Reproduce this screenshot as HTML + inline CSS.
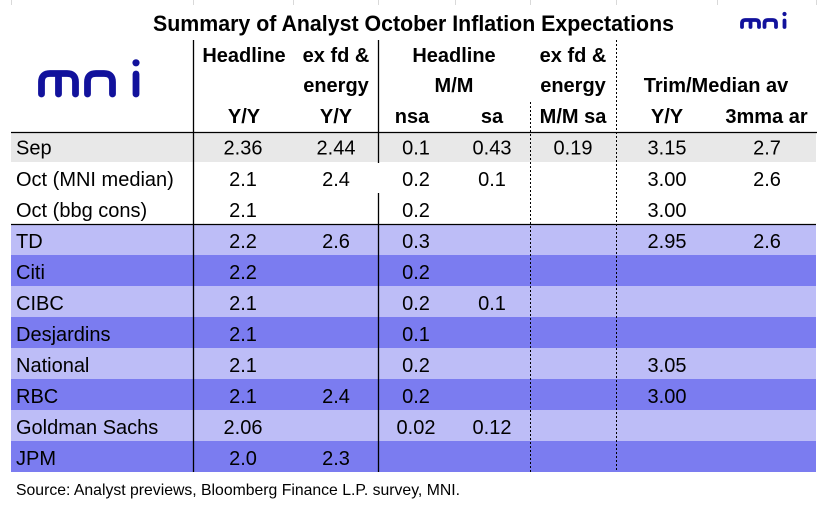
<!DOCTYPE html>
<html>
<head>
<meta charset="utf-8">
<style>
  html, body { margin:0; padding:0; background:#ffffff; }
  svg { display:block; }
  text { font-family: "Liberation Sans", "DejaVu Sans", sans-serif; fill:#000; }
  .hd { font-weight:bold; font-size:20px; }
  .d { font-size:20px; }
</style>
</head>
<body>
<svg width="825" height="506" viewBox="0 0 825 506" xmlns="http://www.w3.org/2000/svg">
  <rect x="0" y="0" width="825" height="506" fill="#ffffff"/>

  <!-- faint gridlines at top -->
  <g stroke="#d9d9d9" stroke-width="1">
    <line x1="11.5" y1="0" x2="11.5" y2="5"/>
    <line x1="193.5" y1="0" x2="193.5" y2="5"/>
    <line x1="293.5" y1="0" x2="293.5" y2="5"/>
    <line x1="378.5" y1="0" x2="378.5" y2="5"/>
    <line x1="455.5" y1="0" x2="455.5" y2="5"/>
    <line x1="530.5" y1="0" x2="530.5" y2="5"/>
    <line x1="616.5" y1="0" x2="616.5" y2="5"/>
    <line x1="717.5" y1="0" x2="717.5" y2="5"/>
    <line x1="816.5" y1="0" x2="816.5" y2="5"/>
  </g>

  <!-- row fills -->
  <rect x="11" y="132" width="805" height="30" fill="#e8e8e8"/>
  <rect x="11" y="224" width="805" height="31" fill="#bdbdf7"/>
  <rect x="11" y="255" width="805" height="31" fill="#7b7cf0"/>
  <rect x="11" y="286" width="805" height="31" fill="#bdbdf7"/>
  <rect x="11" y="317" width="805" height="31" fill="#7b7cf0"/>
  <rect x="11" y="348" width="805" height="31" fill="#bdbdf7"/>
  <rect x="11" y="379" width="805" height="31" fill="#7b7cf0"/>
  <rect x="11" y="410" width="805" height="31" fill="#bdbdf7"/>
  <rect x="11" y="441" width="805" height="31" fill="#7b7cf0"/>

  <!-- lines -->
  <g stroke="#000" stroke-width="1.3">
    <line x1="11" y1="132.5" x2="817" y2="132.5"/>
    <line x1="11" y1="224.5" x2="816" y2="224.5"/>
    <line x1="193.5" y1="40" x2="193.5" y2="472"/>
    <line x1="378.5" y1="40" x2="378.5" y2="163"/>
    <line x1="378.5" y1="193" x2="378.5" y2="472"/>
  </g>
  <g stroke="#000" stroke-width="1" stroke-dasharray="2,2">
    <line x1="530.5" y1="102" x2="530.5" y2="472"/>
    <line x1="616.5" y1="40" x2="616.5" y2="472"/>
  </g>

  <!-- title -->
  <text x="413.5" y="31" text-anchor="middle" font-weight="bold" font-size="22" textLength="521" lengthAdjust="spacingAndGlyphs">Summary of Analyst October Inflation Expectations</text>

  <!-- big mni logo -->
  <g fill="none" stroke="#12129c" stroke-width="6.8" stroke-linecap="round" aria-label="mni">
    <title>mni</title>
    <path d="M41.5 94 V82 Q41.5 73.5 50 73.5 H67 Q75.5 73.5 75.5 82 V94 M58.5 74 V94"/>
    <path d="M87.5 94 V82 Q87.5 73.5 96 73.5 H104 Q112.5 73.5 112.5 82 V94"/>
    <path d="M136 74 V94"/>
  </g>
  <circle cx="136" cy="62.8" r="3.6" fill="#12129c"/>

  <!-- small mni logo -->
  <g fill="none" stroke="#12129c" stroke-width="3.8" stroke-linecap="round" aria-label="mni">
    <title>mni</title>
    <path d="M742 27 V23.5 Q742 20 745.5 20 H755.5 Q759 20 759 23.5 V27 M750.5 20.5 V27"/>
    <path d="M764.5 27 V23.5 Q764.5 20 768 20 H772.5 Q776 20 776 23.5 V27"/>
    <path d="M784.5 20.5 V27"/>
  </g>
  <circle cx="784.5" cy="14" r="2.1" fill="#12129c"/>

  <!-- headers -->
  <g class="hd" text-anchor="middle">
    <text class="hd" x="244" y="62" text-anchor="middle">Headline</text>
    <text class="hd" x="336" y="62" text-anchor="middle">ex fd &amp;</text>
    <text class="hd" x="454" y="62" text-anchor="middle">Headline</text>
    <text class="hd" x="573" y="62" text-anchor="middle">ex fd &amp;</text>

    <text class="hd" x="336" y="92" text-anchor="middle">energy</text>
    <text class="hd" x="454" y="92" text-anchor="middle">M/M</text>
    <text class="hd" x="573" y="92" text-anchor="middle">energy</text>
    <text class="hd" x="716" y="92" text-anchor="middle">Trim/Median av</text>

    <text class="hd" x="244" y="123" text-anchor="middle">Y/Y</text>
    <text class="hd" x="336" y="123" text-anchor="middle">Y/Y</text>
    <text class="hd" x="412" y="123" text-anchor="middle">nsa</text>
    <text class="hd" x="492" y="123" text-anchor="middle">sa</text>
    <text class="hd" x="573" y="123" text-anchor="middle">M/M sa</text>
    <text class="hd" x="667" y="123" text-anchor="middle">Y/Y</text>
    <text class="hd" x="766.5" y="123" text-anchor="middle">3mma ar</text>
  </g>

  <!-- row labels -->
  <g class="d">
    <text class="d" x="16" y="154.5">Sep</text>
    <text class="d" x="16" y="186">Oct (MNI median)</text>
    <text class="d" x="16" y="217">Oct (bbg cons)</text>
    <text class="d" x="16" y="248">TD</text>
    <text class="d" x="16" y="279">Citi</text>
    <text class="d" x="16" y="310">CIBC</text>
    <text class="d" x="16" y="341">Desjardins</text>
    <text class="d" x="16" y="372">National</text>
    <text class="d" x="16" y="403">RBC</text>
    <text class="d" x="16" y="434">Goldman Sachs</text>
    <text class="d" x="16" y="465">JPM</text>
  </g>

  <!-- data -->
  <g class="d" text-anchor="middle">
    <!-- Sep -->
    <text class="d" x="243" y="154.5" text-anchor="middle">2.36</text>
    <text class="d" x="336" y="154.5" text-anchor="middle">2.44</text>
    <text class="d" x="416" y="154.5" text-anchor="middle">0.1</text>
    <text class="d" x="492" y="154.5" text-anchor="middle">0.43</text>
    <text class="d" x="573" y="154.5" text-anchor="middle">0.19</text>
    <text class="d" x="667" y="154.5" text-anchor="middle">3.15</text>
    <text class="d" x="767" y="154.5" text-anchor="middle">2.7</text>
    <!-- Oct MNI -->
    <text class="d" x="243" y="186" text-anchor="middle">2.1</text>
    <text class="d" x="336" y="186" text-anchor="middle">2.4</text>
    <text class="d" x="416" y="186" text-anchor="middle">0.2</text>
    <text class="d" x="492" y="186" text-anchor="middle">0.1</text>
    <text class="d" x="667" y="186" text-anchor="middle">3.00</text>
    <text class="d" x="767" y="186" text-anchor="middle">2.6</text>
    <!-- Oct bbg -->
    <text class="d" x="243" y="217" text-anchor="middle">2.1</text>
    <text class="d" x="416" y="217" text-anchor="middle">0.2</text>
    <text class="d" x="667" y="217" text-anchor="middle">3.00</text>
    <!-- TD -->
    <text class="d" x="243" y="248" text-anchor="middle">2.2</text>
    <text class="d" x="336" y="248" text-anchor="middle">2.6</text>
    <text class="d" x="416" y="248" text-anchor="middle">0.3</text>
    <text class="d" x="667" y="248" text-anchor="middle">2.95</text>
    <text class="d" x="767" y="248" text-anchor="middle">2.6</text>
    <!-- Citi -->
    <text class="d" x="243" y="279" text-anchor="middle">2.2</text>
    <text class="d" x="416" y="279" text-anchor="middle">0.2</text>
    <!-- CIBC -->
    <text class="d" x="243" y="310" text-anchor="middle">2.1</text>
    <text class="d" x="416" y="310" text-anchor="middle">0.2</text>
    <text class="d" x="492" y="310" text-anchor="middle">0.1</text>
    <!-- Desjardins -->
    <text class="d" x="243" y="341" text-anchor="middle">2.1</text>
    <text class="d" x="416" y="341" text-anchor="middle">0.1</text>
    <!-- National -->
    <text class="d" x="243" y="372" text-anchor="middle">2.1</text>
    <text class="d" x="416" y="372" text-anchor="middle">0.2</text>
    <text class="d" x="667" y="372" text-anchor="middle">3.05</text>
    <!-- RBC -->
    <text class="d" x="243" y="403" text-anchor="middle">2.1</text>
    <text class="d" x="336" y="403" text-anchor="middle">2.4</text>
    <text class="d" x="416" y="403" text-anchor="middle">0.2</text>
    <text class="d" x="667" y="403" text-anchor="middle">3.00</text>
    <!-- Goldman -->
    <text class="d" x="243" y="434" text-anchor="middle">2.06</text>
    <text class="d" x="416" y="434" text-anchor="middle">0.02</text>
    <text class="d" x="492" y="434" text-anchor="middle">0.12</text>
    <!-- JPM -->
    <text class="d" x="243" y="465" text-anchor="middle">2.0</text>
    <text class="d" x="336" y="465" text-anchor="middle">2.3</text>
  </g>

  <!-- source -->
  <text x="16" y="495" font-size="16" textLength="444" lengthAdjust="spacingAndGlyphs">Source: Analyst previews, Bloomberg Finance L.P. survey, MNI.</text>
</svg>
</body>
</html>
